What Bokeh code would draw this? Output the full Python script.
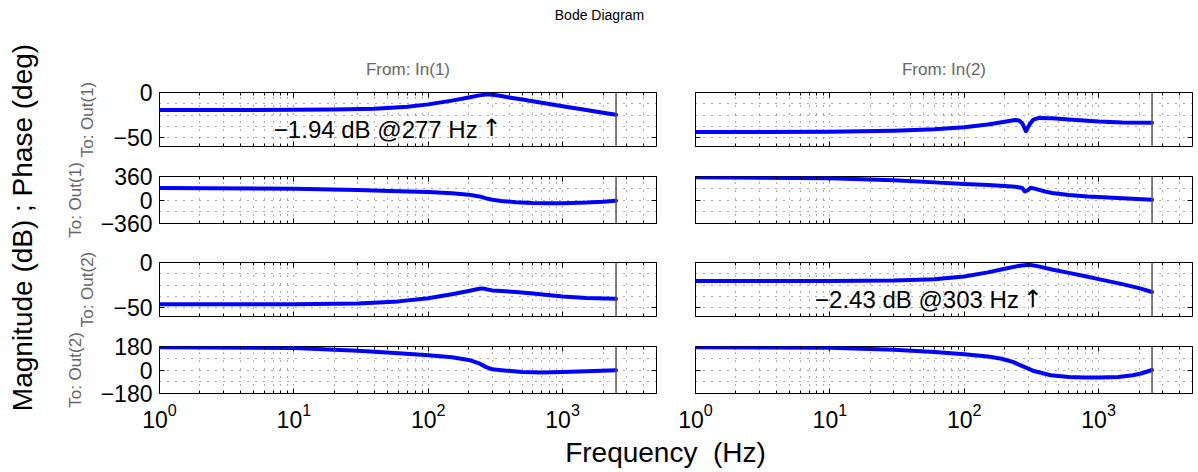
import math
from bokeh.plotting import figure
from bokeh.layouts import row, column
from bokeh.models import Range1d, LogAxis, LinearAxis, FixedTicker, Span, Title
from bokeh.core.properties import value
from bokeh.embed import file_html
from bokeh.resources import INLINE

FONT = "Liberation Sans"
FONT_ARROW = "DejaVu Sans"

# ---------------- data ----------------
# From In(1) -> Out(1)
F_MAG_11 = [1, 3, 10, 20, 40, 70, 100, 150, 200, 240, 277, 310, 350, 400, 500, 700, 1000, 1500, 2000, 2500]
MAG_11 = [-19.5, -19.5, -19.3, -18.9, -18.0, -15.8, -13.2, -9.0, -5.6, -3.2, -1.94, -2.8, -4.0, -5.5, -7.8, -11.3, -15.2, -19.5, -22.4, -24.8]
F_PH_11 = [1, 10, 30, 60, 100, 150, 200, 240, 270, 300, 350, 450, 600, 800, 1000, 1500, 2000, 2500]
PH_11 = [182, 172, 152, 135, 121, 103, 82, 55, 25, 3, -15, -33, -45, -50, -48, -38, -25, -10]
# From In(1) -> Out(2)
F_MAG_21 = [1, 10, 30, 60, 100, 150, 200, 240, 255, 275, 300, 350, 450, 600, 1000, 1500, 2500]
MAG_21 = [-46.5, -46.3, -45.5, -43.2, -39.8, -35.2, -31.6, -29.2, -28.8, -30.0, -31.0, -31.6, -32.8, -34.5, -37.8, -39.5, -40.4]
F_PH_21 = [1, 10, 30, 60, 100, 150, 200, 240, 270, 300, 350, 500, 700, 1000, 1500, 2500]
PH_21 = [175, 168, 148, 128, 113, 97, 77, 50, 22, 5, -2, -15, -19, -16, -10, -1]
# From In(2) -> Out(1)
F_MAG_12 = [1, 10, 30, 60, 100, 150, 200, 240, 255, 270, 288, 305, 325, 360, 450, 600, 1000, 1500, 2500]
MAG_12 = [-44.0, -43.7, -42.5, -40.8, -38.6, -35.6, -32.6, -30.6, -31.0, -34.0, -43.0, -36.0, -30.5, -28.3, -28.6, -30.0, -32.2, -33.2, -33.6]
F_PH_12 = [1, 10, 30, 60, 100, 150, 200, 240, 270, 283, 297, 312, 340, 400, 450, 600, 830, 1000, 1500, 2500]
PH_12 = [350, 335, 302, 270, 246, 228, 215, 203, 185, 130, 150, 188, 170, 130, 108, 78, 54, 45, 25, 2]
# From In(2) -> Out(2)
F_MAG_22 = [1, 10, 30, 60, 100, 150, 200, 250, 303, 350, 450, 600, 800, 1000, 1500, 2000, 2500]
MAG_22 = [-20.6, -20.5, -20.0, -18.5, -15.5, -11.0, -7.0, -4.0, -2.43, -4.0, -7.8, -11.5, -15.3, -18.5, -24.0, -28.5, -32.8]
F_PH_22 = [1, 10, 30, 60, 100, 150, 190, 230, 263, 300, 330, 440, 600, 800, 1000, 1400, 1800, 2100, 2500]
PH_22 = [175, 170, 155, 137, 121, 104, 86, 62, 35, 10, -8, -40, -53, -58, -58, -53, -40, -25, 0]

# peak annotations (frequency Hz, magnitude dB)
PEAK_11 = (277, -1.94)
PEAK_22 = (303, -2.43)

NYQUIST = 2500
F_MIN, F_MAX = 1, 5000
X_TICKS = [1, 10, 100, 1000]
X_MINOR = [m * 10 ** e for e in range(4) for m in range(2, 10) if m * 10 ** e < F_MAX]

MAG_LIM, MAG_TICKS, MAG_MINOR = (-60, 0), [-50, 0], [-37.5, -25, -12.5]
PH1_LIM, PH1_TICKS, PH1_MINOR = (-360, 360), [-360, 0, 360], [-180, 180]
PH2_LIM, PH2_TICKS, PH2_MINOR = (-180, 180), [-180, 0, 180], [-90, 90]

TITLE = "Bode Diagram"
COL_TITLES = ["From: In(1)", "From: In(2)"]
ROW_LABELS = ["To: Out(1)", "To: Out(1)", "To: Out(2)", "To: Out(2)"]
YLABEL = "Magnitude (dB) ; Phase (deg)"
XLABEL = "Frequency\u00a0 (Hz)"

# ---------------- layout geometry ----------------
STRIP_W = 48
LEFT_W, RIGHT_W = 628, 520
LEFT_BL, LEFT_BR = 111, 20
RIGHT_BL, RIGHT_BR = 19, 4
HEADER_H, FOOTER_H = 38, 37
ROWS = [(54, 54, 13), (17, 47, 20), (19, 54, 13), (17, 47, 40)]
TOTAL_W = STRIP_W + LEFT_W + RIGHT_W
TOTAL_H = HEADER_H + sum(sum(r) for r in ROWS) + FOOTER_H

GRAY = "#666666"
BLUE = "#0000ff"
TICK_FS = "23px"
NOTE_FS = "24px"


def minus(v):
    s = ("%g" % abs(v))
    return ("\u2212" + s) if v < 0 else s


def style_axis(ax, show_labels, ticks, minor=True):
    ax.axis_line_color = None
    ax.major_tick_in = 5
    ax.major_tick_out = 0
    ax.minor_tick_in = 3
    ax.minor_tick_out = 0
    ax.major_tick_line_color = "black"
    ax.minor_tick_line_color = "black" if minor else None
    if show_labels:
        ax.major_label_text_font = FONT
        ax.major_label_text_font_size = TICK_FS
        ax.major_label_text_color = "black"
        ax.major_label_standoff = 7
    else:
        ax.major_label_overrides = {t: "" for t in ticks}
        ax.major_label_text_font_size = "1px"
        ax.major_label_standoff = 0


def panel(col, r, freqs, vals, kind, peak=None):
    lim, ticks, mticks = {"mag": (MAG_LIM, MAG_TICKS, MAG_MINOR),
                          "ph1": (PH1_LIM, PH1_TICKS, PH1_MINOR),
                          "ph2": (PH2_LIM, PH2_TICKS, PH2_MINOR)}[kind]
    top, fh, bot = ROWS[r]
    w = LEFT_W if col == 0 else RIGHT_W
    bl, br = (LEFT_BL, LEFT_BR) if col == 0 else (RIGHT_BL, RIGHT_BR)
    p = figure(width=w, height=top + fh + bot, x_axis_type="log",
               x_range=Range1d(F_MIN, F_MAX), y_range=Range1d(*lim),
               output_backend="svg", toolbar_location=None,
               min_border_left=bl, min_border_right=br,
               min_border_top=top, min_border_bottom=bot)
    p.background_fill_color = "white"
    p.border_fill_color = "white"
    p.outline_line_color = "black"
    p.outline_line_width = 1
    p.outline_line_alpha = 1

    if r == 0:
        p.title = Title(text=COL_TITLES[col], align="center", text_font=FONT,
                        text_font_size="17px", text_font_style="normal",
                        text_color=GRAY, standoff=27)

    xa = p.xaxis[0]
    xa.ticker = FixedTicker(ticks=X_TICKS, minor_ticks=X_MINOR)
    style_axis(xa, r == 3, X_TICKS)
    if r == 3:
        xa.major_label_standoff = 9

    ya = p.yaxis[0]
    ya.ticker = FixedTicker(ticks=ticks, minor_ticks=mticks)
    style_axis(ya, col == 0, ticks, minor=False)
    if col == 0:
        ya.major_label_overrides = {t: minus(t) for t in ticks}
        ya.axis_label = ROW_LABELS[r]
        ya.axis_label_text_font = FONT
        ya.axis_label_text_font_size = "17px"
        ya.axis_label_text_font_style = "normal"
        ya.axis_label_text_color = GRAY
        ya.axis_label_standoff = 13

    top_ax = LogAxis(ticker=FixedTicker(ticks=X_TICKS, minor_ticks=X_MINOR))
    style_axis(top_ax, False, X_TICKS)
    p.add_layout(top_ax, "above")
    right_ax = LinearAxis(ticker=FixedTicker(ticks=ticks, minor_ticks=[]))
    style_axis(right_ax, False, ticks, minor=False)
    p.add_layout(right_ax, "right")

    for g in (p.xgrid[0], p.ygrid[0]):
        g.grid_line_color = "black"
        g.grid_line_alpha = 0.65
        g.grid_line_dash = "1 7"
        g.grid_line_width = 1
        g.minor_grid_line_color = "black"
        g.minor_grid_line_alpha = 0.65
        g.minor_grid_line_dash = "1 7"
        g.minor_grid_line_width = 1

    p.add_layout(Span(location=NYQUIST, dimension="height",
                      line_color="#555555", line_width=1.5))

    p.line(freqs, vals, line_color=BLUE, line_width=4, line_join="round", line_cap="round")

    if peak is not None:
        f, db = peak
        txt = "\u2212%.2f dB @%d Hz" % (abs(db), f)
        p.text(x=[f], y=[db], text=[txt], text_font=value(FONT),
               text_font_size=value(NOTE_FS), text_color="black",
               text_align="right", text_baseline="middle",
               x_offset=-10, y_offset=35)
        p.text(x=[f], y=[db], text=["\u2191"], text_font=value(FONT_ARROW),
               text_font_size=value(NOTE_FS), text_color="black",
               text_align="center", text_baseline="middle",
               x_offset=4, y_offset=34)
    return p


def blank(w, h):
    p = figure(width=w, height=h, x_range=Range1d(0, w), y_range=Range1d(0, h),
               output_backend="svg", toolbar_location=None,
               x_axis_location=None, y_axis_location=None, min_border=0)
    p.outline_line_color = None
    p.background_fill_color = "white"
    p.border_fill_color = "white"
    p.grid.visible = False
    return p


panels = [
    [panel(0, 0, F_MAG_11, MAG_11, "mag", PEAK_11), panel(1, 0, F_MAG_12, MAG_12, "mag")],
    [panel(0, 1, F_PH_11, PH_11, "ph1"), panel(1, 1, F_PH_12, PH_12, "ph1")],
    [panel(0, 2, F_MAG_21, MAG_21, "mag"), panel(1, 2, F_MAG_22, MAG_22, "mag", PEAK_22)],
    [panel(0, 3, F_PH_21, PH_21, "ph2"), panel(1, 3, F_PH_22, PH_22, "ph2")],
]

inner_w = LEFT_W + RIGHT_W

header = blank(inner_w, HEADER_H)
header.text(x=[551], y=[HEADER_H - 14], text=[TITLE], text_font=value(FONT),
            text_font_size=value("14px"), text_color="black",
            text_align="center", text_baseline="middle")

footer = blank(inner_w, FOOTER_H)
footer.text(x=[617], y=[FOOTER_H - 19], text=[XLABEL], text_font=value(FONT),
            text_font_size=value("28px"), text_color="black",
            text_align="center", text_baseline="middle")

strip = blank(STRIP_W, TOTAL_H)
strip.text(x=[22], y=[TOTAL_H - 227], text=[YLABEL], text_font=value(FONT),
           text_font_size=value("28px"), text_color="black", angle=math.pi / 2,
           text_align="center", text_baseline="middle")

layout = row(strip, column(header, *[row(*pr) for pr in panels], footer))

open("out.html", "w").write(file_html(layout, INLINE))
